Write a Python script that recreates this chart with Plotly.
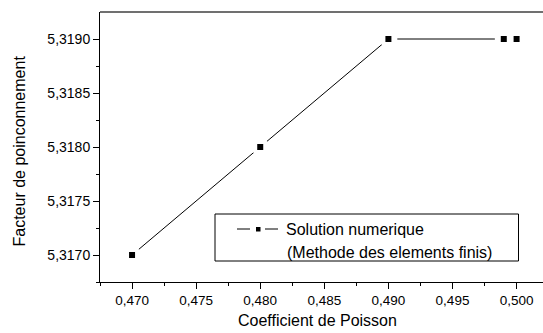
import plotly.graph_objects as go

poisson = [0.470, 0.480, 0.490, 0.499, 0.500]
facteur = [5.3170, 5.3180, 5.3190, 5.3190, 5.3190]
x_ticks = [0.470, 0.475, 0.480, 0.485, 0.490, 0.495, 0.500]
y_ticks = [5.3170, 5.3175, 5.3180, 5.3185, 5.3190]
series_name = "Solution numerique"
series_note = "(Methode des elements finis)"
x_title = "Coefficient de Poisson"
y_title = "Facteur de poinconnement"

FONT = "Liberation Sans, Arial, sans-serif"

fig = go.Figure()
fig.add_trace(go.Scatter(x=poisson, y=facteur, mode="lines",
                         line=dict(color="black", width=1), showlegend=False))
fig.add_trace(go.Scatter(x=poisson, y=facteur, mode="markers",
                         marker=dict(symbol="circle", size=18, color="white"),
                         showlegend=False))
fig.add_trace(go.Scatter(x=poisson, y=facteur, mode="markers",
                         marker=dict(symbol="square", size=6, color="black"),
                         showlegend=False))

L, T, B, W, H = 100, 12, 51, 543, 333
pw, ph = W - L, H - T - B

def px(xp):
    return (xp - L) / pw

def py(yp):
    return (H - B - yp) / ph

shapes = [
    dict(type="line", xref="paper", yref="paper", x0=0, x1=1, y0=1, y1=1,
         line=dict(color="#707070", width=2)),
    dict(type="rect", xref="paper", yref="paper", x0=px(215), x1=px(518.5),
         y0=py(261), y1=py(214), line=dict(color="black", width=1),
         fillcolor="white"),
    dict(type="line", xref="paper", yref="paper", x0=px(237), x1=px(250),
         y0=py(229), y1=py(229), line=dict(color="black", width=1)),
    dict(type="line", xref="paper", yref="paper", x0=px(265), x1=px(278),
         y0=py(229), y1=py(229), line=dict(color="black", width=1)),
    dict(type="rect", xref="paper", yref="paper", x0=px(256), x1=px(260.5),
         y0=py(231.5), y1=py(227), line=dict(width=0), fillcolor="black"),
]

annotations = [
    dict(text=series_name, xref="paper", yref="paper", x=px(284), y=py(229),
         xanchor="left", yanchor="middle", showarrow=False,
         font=dict(family=FONT, size=16, color="black")),
    dict(text=series_note, xref="paper", yref="paper", x=px(285), y=py(252),
         xanchor="left", yanchor="middle", showarrow=False,
         font=dict(family=FONT, size=16, color="black")),
    dict(text=x_title, xref="paper", yref="paper", x=px(317), y=py(320),
         xanchor="center", yanchor="middle", showarrow=False,
         font=dict(family=FONT, size=16, color="black")),
    dict(text=y_title, xref="paper", yref="paper", x=px(19), y=py(151.5),
         xanchor="center", yanchor="middle", showarrow=False, textangle=-90,
         font=dict(family=FONT, size=16, color="black")),
]

fig.update_layout(
    width=W, height=H,
    margin=dict(l=L, r=0, t=T, b=B, pad=0),
    paper_bgcolor="white", plot_bgcolor="white",
    separators=", ",
    font=dict(family=FONT, color="black"),
    shapes=shapes, annotations=annotations,
    showlegend=False,
    xaxis=dict(range=[0.4675, 0.50206], tickvals=x_ticks, tickformat=".3f",
               ticks="outside", ticklen=6, tickwidth=1, tickcolor="black",
               showline=True, linecolor="black", linewidth=1,
               showgrid=False, zeroline=False,
               tickfont=dict(family=FONT, size=13.5),
               minor=dict(tickvals=[0.4675, 0.4725, 0.4775, 0.4825, 0.4875, 0.4925, 0.4975],
                          ticks="outside", ticklen=3, tickcolor="black", tickwidth=1)),
    yaxis=dict(range=[5.31675, 5.31925], tickvals=y_ticks, tickformat=".4f",
               ticks="outside", ticklen=6, tickwidth=1, tickcolor="black",
               showline=True, linecolor="black", linewidth=1,
               showgrid=False, zeroline=False,
               tickfont=dict(family=FONT, size=14),
               minor=dict(tickvals=[5.31675, 5.31725, 5.31775, 5.31825, 5.31875],
                          ticks="outside", ticklen=3, tickcolor="black", tickwidth=1)),
)

fig.write_html("out.html")
